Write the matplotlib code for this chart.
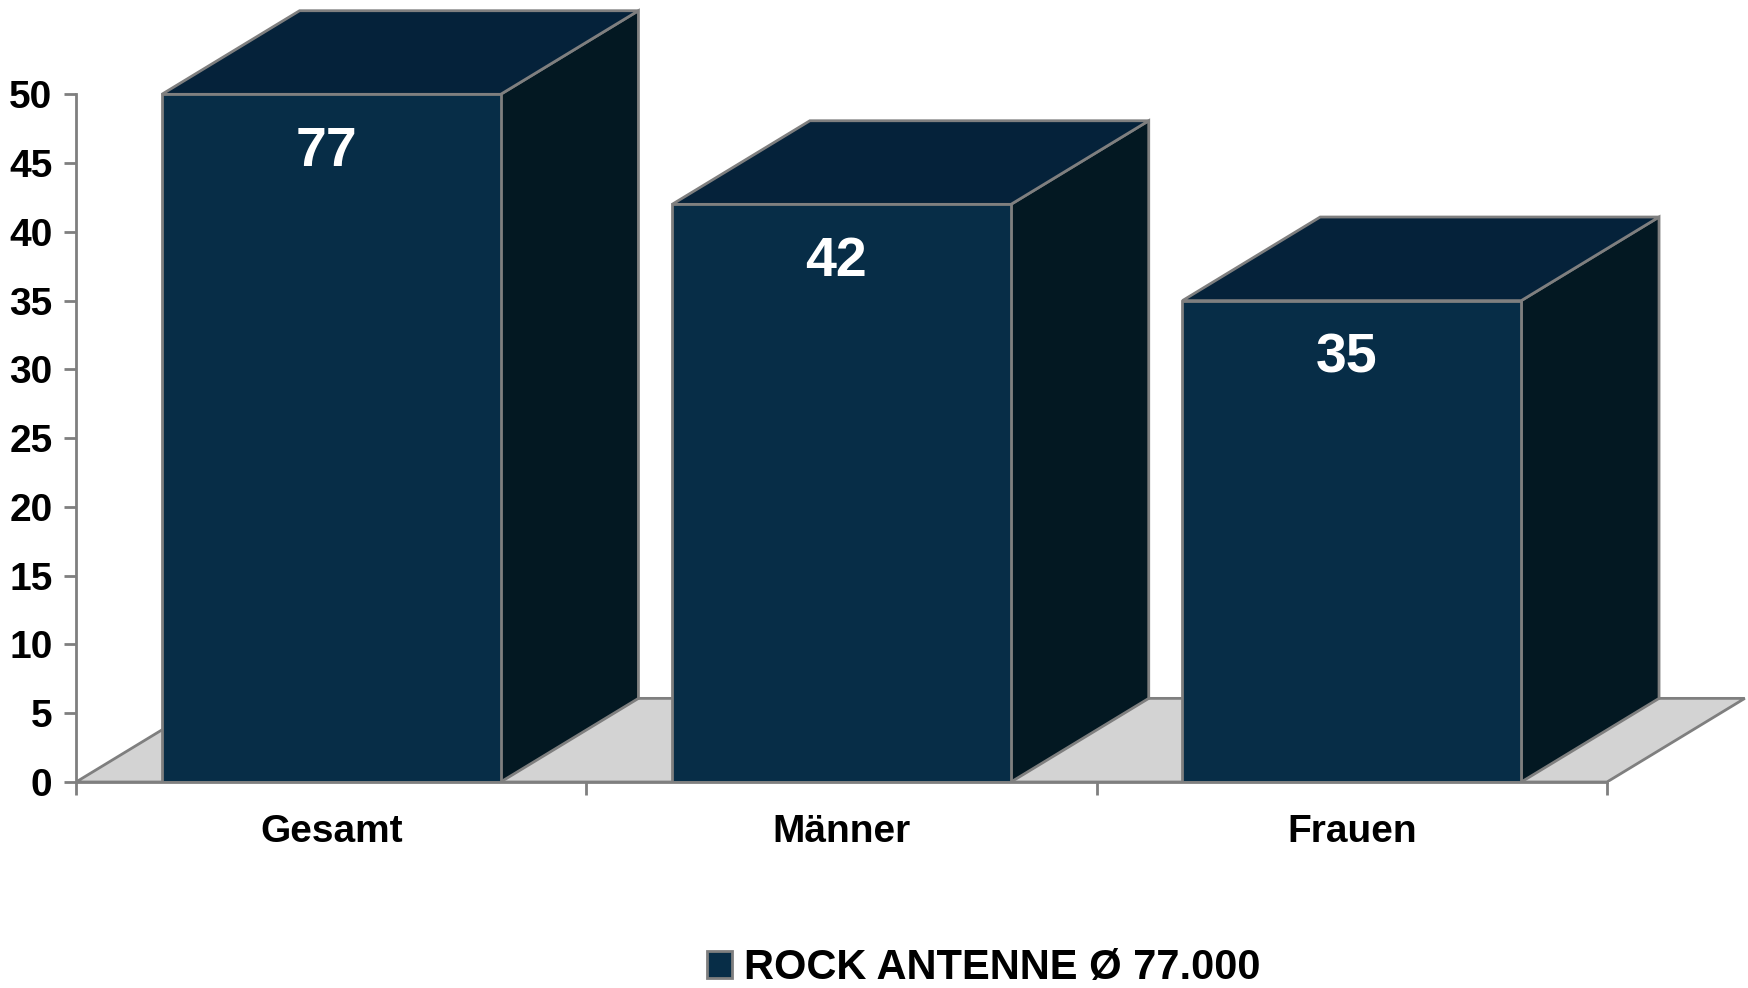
import matplotlib
matplotlib.use("Agg")
import matplotlib.pyplot as plt
from matplotlib.patches import Polygon, Patch

# data
kategorien = ["Gesamt", "Männer", "Frauen"]
werte = [77, 42, 35]
serie = "ROCK ANTENNE Ø 77.000"
y_ticks = [0, 5, 10, 15, 20, 25, 30, 35, 40, 45, 50]

plt.rcParams["font.family"] = ["Liberation Sans", "DejaVu Sans"]
plt.rcParams["font.weight"] = "bold"

front = "#072d47"
oben = "#05223a"
seite = "#031822"
kante = "#7f7f7f"
boden = "#d3d3d3"

ymax = 50
dx, dy = 0.27, 6.08     # tiefe
breite = 0.664

fig = plt.figure(figsize=(17.49, 9.88), dpi=100)
ax = fig.add_axes([0.0435, 0.2085, 0.957, 0.7865])
ax.set_xlim(0, 3.28)
ax.set_ylim(0, 56.5)

# boden
n = len(kategorien)
ax.add_patch(Polygon([(0, 0), (n, 0), (n + dx, dy), (dx, dy)], closed=True,
                     facecolor=boden, edgecolor=kante, lw=2, zorder=1))

for i, (kat, w) in enumerate(zip(kategorien, werte)):
    h = min(w, ymax)
    x0 = i + 0.5 - breite / 2
    x1 = i + 0.5 + breite / 2
    ax.add_patch(Polygon([(x1, 0), (x1 + dx, dy), (x1 + dx, h + dy), (x1, h)],
                         closed=True, facecolor=seite, edgecolor=kante, lw=2, zorder=2))
    ax.add_patch(Polygon([(x0, h), (x1, h), (x1 + dx, h + dy), (x0 + dx, h + dy)],
                         closed=True, facecolor=oben, edgecolor=kante, lw=2, zorder=2))
    ax.add_patch(Polygon([(x0, 0), (x1, 0), (x1, h), (x0, h)],
                         closed=True, facecolor=front, edgecolor=kante, lw=2, zorder=3))
    ax.text(i + 0.49, h - 4.2, str(w), color="white", fontsize=40, fontweight="bold",
            ha="center", va="center", zorder=4)

# achsen
for s in ["top", "right"]:
    ax.spines[s].set_visible(False)
ax.spines["left"].set_bounds(0, ymax)
ax.spines["bottom"].set_bounds(0, n)
for s in ["left", "bottom"]:
    ax.spines[s].set_color(kante)
    ax.spines[s].set_linewidth(2)
    ax.spines[s].set_zorder(5)

ax.set_yticks(y_ticks)
ax.set_yticklabels([str(t) for t in y_ticks], fontsize=28, fontweight="bold")
ax.tick_params(axis="y", length=9, width=2, color=kante, pad=8)

ax.set_xticks([i + 0.5 for i in range(n)])
ax.set_xticklabels(kategorien, fontsize=28, fontweight="bold")
ax.set_xticks(range(n + 1), minor=True)
ax.tick_params(axis="x", which="major", length=0, pad=23)
ax.tick_params(axis="x", which="minor", length=9, width=2, color=kante)

fig.legend(handles=[Patch(facecolor=front, edgecolor=kante, lw=2)], labels=[serie],
           loc="center", bbox_to_anchor=(0.5626, 0.02), frameon=False,
           handlelength=0.6, handleheight=0.6, handletextpad=0.3,
           borderpad=0.2, prop={"weight": "bold", "size": 30})

fig.savefig("out.png", dpi=100)
